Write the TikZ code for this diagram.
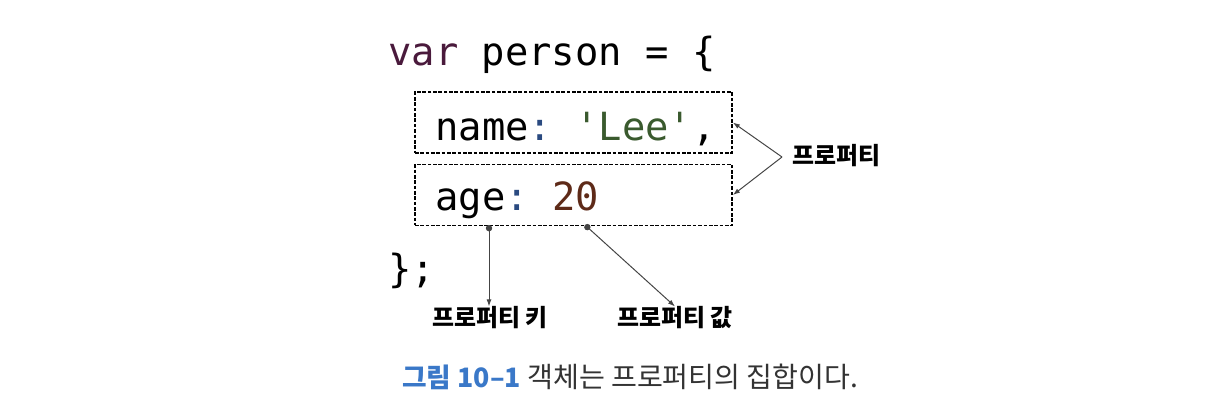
\documentclass[tikz,border=0pt]{standalone}
\usepackage{fontspec}
\setmonofont{DejaVu Sans Mono}
\newfontfamily\kr{Noto Sans CJK KR}
\usepackage{tikz}
\usetikzlibrary{arrows.meta}
\definecolor{kwcol}{HTML}{4A1A3C}
\definecolor{colcol}{HTML}{2A4A80}
\definecolor{strcol}{HTML}{3A5A2E}
\definecolor{numcol}{HTML}{5E2A18}
\definecolor{capblue}{HTML}{3A78C8}
\definecolor{capgray}{HTML}{333333}
\definecolor{linegray}{HTML}{444444}

\begin{document}
\begin{tikzpicture}[x=0.025cm, y=-0.025cm,
    code/.style={anchor=base west, inner sep=0pt, font=\ttfamily\fontsize{27.6}{33}\selectfont},
    propbox/.style={draw, dash pattern=on 2.6pt off 1.2pt, line width=1.2pt, minimum width=7.925cm, minimum height=1.52cm, inner sep=0pt},
    lbl/.style={inner sep=0pt, font=\kr\bfseries\fontsize{17}{20}\selectfont},
    conn/.style={draw=linegray, line width=0.7pt, -{Latex[length=5pt,width=3.5pt]}}]
\useasboundingbox[fill=white] (0,0) rectangle (1208,414);
% code lines
\node[code] (line0) at (388,65) {{\color{kwcol}var} person = \{};
\node[code] (line1) at (435,140) {name{\color{colcol}:} {\color{strcol}'Lee'},};
\node[code] (line2) at (435,210) {age{\color{colcol}:} {\color{numcol}20}};
\node[code] (line3) at (388,282) {\};};
% property boxes
\node[propbox] (namebox) at (573.5,122.5) {};
\node[propbox] (agebox) at (573.5,195) {};
% labels
\node[lbl, anchor=west] (proplbl) at (792,156) {프로퍼티};
\node[lbl] (keylbl) at (490,318) {프로퍼티 키};
\node[lbl] (vallbl) at (675,318) {프로퍼티 값};
\coordinate (apex) at (782,157);
\coordinate (keydot) at (489,225);
\coordinate (valdot) at (585,225);
\draw[conn] (apex) -- (namebox.east);
\draw[conn] (apex) -- (agebox.east);
\draw[conn, {Circle[length=4.5pt]}-{Latex[length=5pt,width=3.5pt]}] (keydot) -- (keydot |- keylbl.north);
\draw[conn, {Circle[length=4.5pt]}-{Latex[length=5pt,width=3.5pt]}] (valdot) -- (vallbl.north);
% caption
\node[anchor=west, inner sep=0pt, font=\kr\fontsize{20}{24}\selectfont, text=capgray] (caption) at (402,377)
    {{\color{capblue}\bfseries\fontsize{19}{24}\selectfont 그림 10–1} 객체는 프로퍼티의 집합이다.};
\end{tikzpicture}
\end{document}
